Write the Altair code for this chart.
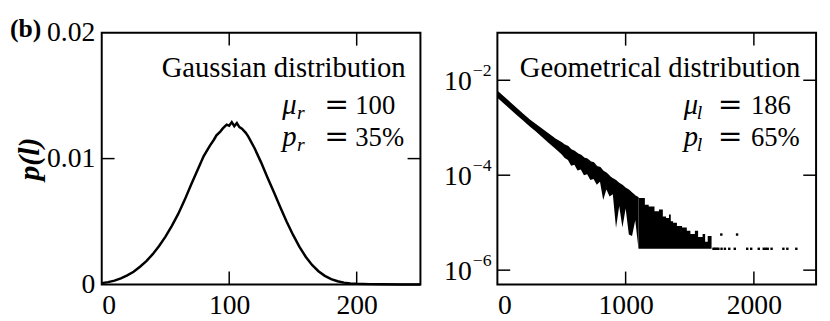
import altair as alt
import pandas as pd

FONT = "Liberation Serif"

# ---------------- left panel: Gaussian distribution ----------------
GAUSS_L = [0, 5, 10, 15, 20, 25, 30, 35, 40, 45, 50, 55, 60, 65, 70, 75, 80, 85, 88, 90, 93, 95,
           98, 100, 102, 104, 106, 108, 110, 113, 115, 120, 125, 130, 135, 140, 145, 150, 155,
           160, 165, 170, 175, 180, 185, 190, 195, 200, 210, 220, 235, 250]
GAUSS_P = [0.00010, 0.00018, 0.00030, 0.00048, 0.00072, 0.00100, 0.00140, 0.00185, 0.00240,
           0.00305, 0.00380, 0.00465, 0.00560, 0.00670, 0.00790, 0.00905, 0.01020, 0.01105,
           0.01150, 0.01185, 0.01215, 0.01240, 0.01270, 0.01262, 0.01290, 0.01258, 0.01282,
           0.01250, 0.01238, 0.01205, 0.01175, 0.01080, 0.00970, 0.00850, 0.00735, 0.00615,
           0.00500, 0.00395, 0.00300, 0.00220, 0.00155, 0.00105, 0.00068, 0.00042, 0.00025,
           0.00014, 0.00008, 0.00005, 0.00002, 0.00001, 0.0, 0.0]

# ---------------- right panel: geometrical distribution (log10 values) ----------------
GEO_L = [0, 50, 100, 150, 200, 250, 300, 350, 400, 450, 500, 525, 550, 575, 600, 625, 650,
         675, 700, 725, 750, 775, 800, 825, 850, 875, 900, 925, 950, 975, 1000, 1025, 1050,
         1075, 1100]
GEO_UP = [-2.24, -2.36, -2.48, -2.60, -2.72, -2.84, -2.94, -3.04, -3.14, -3.24, -3.32, -3.37,
          -3.40, -3.47, -3.50, -3.55, -3.58, -3.64, -3.66, -3.72, -3.74, -3.82, -3.84, -3.92,
          -3.96, -4.03, -4.08, -4.12, -4.18, -4.22, -4.28, -4.32, -4.38, -4.44, -4.48]
GEO_LO = [-2.37, -2.49, -2.61, -2.73, -2.85, -2.97, -3.08, -3.20, -3.32, -3.44, -3.56, -3.64,
          -3.68, -3.80, -3.78, -3.90, -3.88, -4.00, -3.98, -4.10, -4.08, -4.20, -4.14, -4.52,
          -4.30, -4.45, -4.40, -5.11, -4.65, -5.10, -4.70, -5.25, -5.28, -4.95, -5.55]

TAIL_L = [1100, 1150, 1180, 1225, 1260, 1290, 1315, 1338, 1352, 1370, 1400, 1440, 1477, 1505,
          1540, 1565, 1600, 1620, 1640, 1670]
TAIL_UP = [-4.48, -4.62, -4.66, -4.76, -4.72, -4.87, -4.90, -4.83, -4.97, -5.00, -5.07, -5.10,
           -5.17, -5.24, -5.17, -5.30, -5.24, -5.40, -5.28, -5.55]
FLOOR = -5.55

DOT_L = [1685, 1697, 1710, 1723, 1748, 1774, 1808, 1851, 1948, 1979, 2038, 2077, 2093, 2108,
         2138, 2230, 2261, 2331]
DOT2_L = [1746, 1869]
DOT2_V = -5.25

# ---------------- axes / labels ----------------
XL_TICKS = [0, 100, 200]
YL_TICKS = [0, 0.01, 0.02]
XR_TICKS = [0, 1000, 2000]
YR_EXP = [-2, -4, -6]
YR_SUP = ["\u22122", "\u22124", "\u22126"]

TEXT_L = ["Gaussian distribution", "\u03bc", "r", "=", "100", "p", "r", "=", "35%"]
TEXT_R = ["Geometrical distribution", "\u03bc", "l", "=", "186", "p", "l", "=", "65%"]

W, H = 323, 255
TL = 13

XL = alt.Scale(domain=[0, 250], nice=False, zero=False)
YL = alt.Scale(domain=[0, 0.02], nice=False)
XR = alt.Scale(domain=[0, 2485], nice=False, zero=False)
YR = alt.Scale(type="log", domain=[10 ** -6.3, 10 ** -1], nice=False)

AX_XL = alt.Axis(values=XL_TICKS, format="d", ticks=False, tickSize=0, domain=False, grid=False,
                 title=None, labelPadding=8)
AX_YL = alt.Axis(values=YL_TICKS, ticks=False, tickSize=0, domain=False, grid=False,
                 labelExpr="datum.value == 0 ? '0' : format(datum.value, '.2f')",
                 labelPadding=7, title="p(l)", titlePadding=2)
AX_XR = alt.Axis(values=XR_TICKS, format="d", ticks=False, tickSize=0, domain=False, grid=False,
                 title=None, labelPadding=8)


def pow10(v):
    return 10.0 ** v


def frame_ticks(xs, ys, xenc, yenc):
    layers = []
    xd = pd.DataFrame({"t": xs})
    yd = pd.DataFrame({"t": ys})
    for y0, y1 in [(H, H - TL), (0, TL)]:
        layers.append(alt.Chart(xd).mark_rule(color="black", strokeWidth=1.5).encode(
            x=xenc("t:Q"), y=alt.value(y0), y2=alt.value(y1)))
    for x0, x1 in [(0, TL), (W, W - TL)]:
        layers.append(alt.Chart(yd).mark_rule(color="black", strokeWidth=1.5).encode(
            y=yenc("t:Q"), x=alt.value(x0), x2=alt.value(x1)))
    return layers


def txt(s, x, y, size=28, align="left", style="normal", weight="normal", font=FONT):
    return alt.Chart(pd.DataFrame({"s": [s]})).mark_text(
        align=align, baseline="alphabetic", fontSize=size, font=font,
        fontStyle=style, fontWeight=weight, color="black").encode(
        text="s:N", x=alt.value(x), y=alt.value(y))


def annotations(T, mu_x, sub_x, eq_x, num_x, title_r):
    return [
        txt(T[0], title_r, 45, size=29, align="right"),
        txt(T[1], mu_x, 82, size=29, style="italic"),
        txt(T[2], sub_x, 87, size=20, style="italic"),
        txt(T[3], eq_x, 82, size=30, align="center", font="DejaVu Serif"),
        txt(T[4], num_x, 82, size=27),
        txt(T[5], mu_x, 115, size=29, style="italic"),
        txt(T[6], sub_x, 120, size=20, style="italic"),
        txt(T[7], eq_x, 115, size=30, align="center", font="DejaVu Serif"),
        txt(T[8], num_x, 115, size=27),
    ]


# ---------------- left panel ----------------
def lx(f):
    return alt.X(f, scale=XL, axis=AX_XL)


def ly(f):
    return alt.Y(f, scale=YL, axis=AX_YL)


gdf = pd.DataFrame({"l": GAUSS_L, "p": GAUSS_P})
gline = alt.Chart(gdf).mark_line(color="black", strokeWidth=2.5).encode(x=lx("l:Q"), y=ly("p:Q"))

left = alt.layer(
    gline,
    *frame_ticks([100, 200], [0.01], lx, ly),
    txt("(b)", -93, 4, size=26, weight="bold"),
    *annotations(TEXT_L, 183, 198, 238, 257, 308),
).properties(width=W, height=H)


# ---------------- right panel ----------------
def rx(f):
    return alt.X(f, scale=XR, axis=AX_XR)


def ry(f):
    return alt.Y(f, scale=YR, axis=None)


band = pd.DataFrame({"l": GEO_L, "up": [pow10(v) for v in GEO_UP],
                     "lo": [pow10(v) for v in GEO_LO]})
tail = pd.DataFrame({"l": TAIL_L, "up": [pow10(v) for v in TAIL_UP],
                     "lo": [pow10(FLOOR)] * len(TAIL_L)})
dots = pd.DataFrame({"l": DOT_L + DOT2_L,
                     "v": [pow10(FLOOR)] * len(DOT_L) + [pow10(DOT2_V)] * len(DOT2_L)})

band_area = alt.Chart(band).mark_area(color="black", opacity=1).encode(
    x=rx("l:Q"), y=ry("up:Q"), y2="lo:Q")
band_edge = alt.Chart(band).mark_line(color="black", strokeWidth=1.5).encode(
    x=rx("l:Q"), y=ry("up:Q"))
tail_area = alt.Chart(tail).mark_area(color="black", opacity=1, interpolate="step-after").encode(
    x=rx("l:Q"), y=ry("up:Q"), y2="lo:Q")
dot_marks = alt.Chart(dots).mark_square(color="black", size=6, opacity=1).encode(
    x=rx("l:Q"), y=ry("v:Q"))

ylab = pd.DataFrame({"v": [pow10(e) for e in YR_EXP], "sup": YR_SUP})
ylab_base = alt.Chart(ylab).mark_text(
    text="10", align="right", baseline="middle", dy=2, fontSize=28, font=FONT, color="black"
).encode(y=ry("v:Q"), x=alt.value(-26))
ylab_sup = alt.Chart(ylab).mark_text(
    align="left", baseline="middle", dy=-9, fontSize=18, font=FONT, color="black"
).encode(y=ry("v:Q"), x=alt.value(-25), text="sup:N")

right = alt.layer(
    band_area, band_edge, tail_area, dot_marks,
    *frame_ticks([1000, 2000], [pow10(e) for e in YR_EXP], rx, ry),
    ylab_base, ylab_sup,
    *annotations(TEXT_R, 189, 202, 236, 257, 307),
).properties(width=W, height=H)

chart = alt.hconcat(left, right, spacing=78, bounds="flush").properties(
    padding={"left": 1, "top": 5, "right": 4, "bottom": 0}, background="white"
).configure_view(stroke="black", strokeWidth=2).configure_axis(
    labelFont=FONT, labelFontSize=28, labelColor="black",
    titleFont=FONT, titleFontSize=30, titleFontStyle="italic", titleFontWeight="bold",
    titleColor="black"
)

chart.save("out.html", embed_options={"renderer": "svg", "actions": False})
